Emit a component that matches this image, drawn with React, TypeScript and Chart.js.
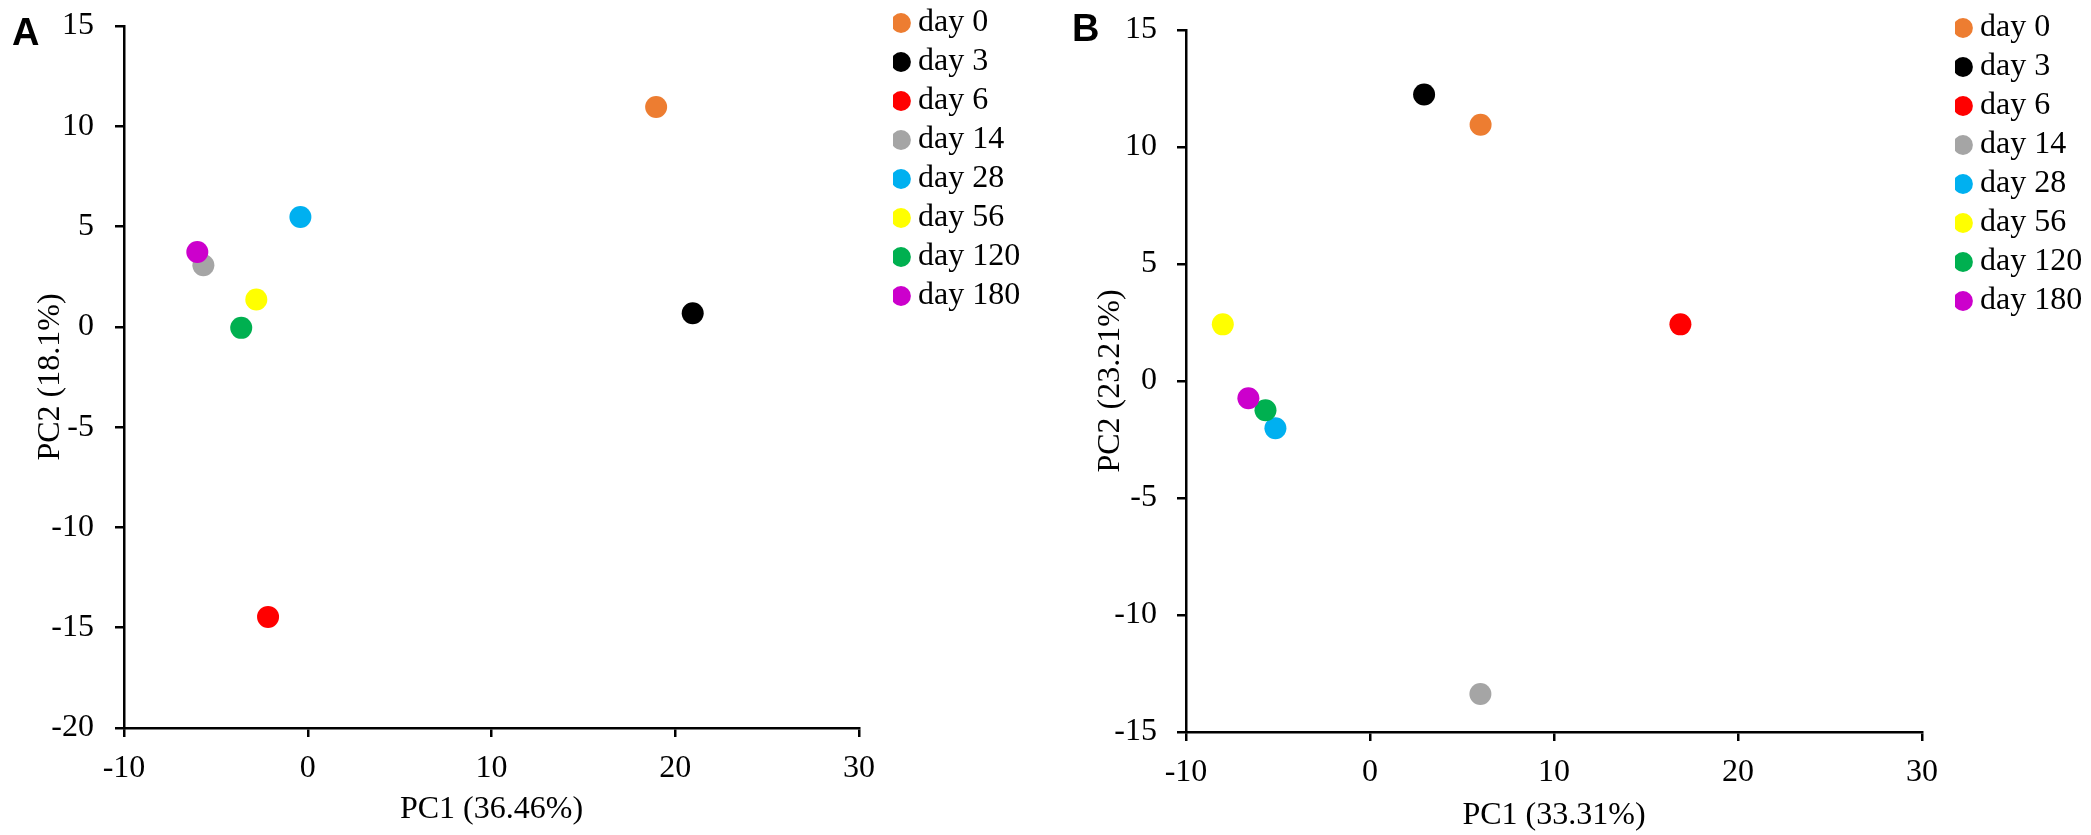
import React, { useEffect, useRef } from 'react';
import { Chart, registerables } from 'chart.js';

Chart.register(...registerables);

const days = ['day 0', 'day 3', 'day 6', 'day 14', 'day 28', 'day 56', 'day 120', 'day 180'];
const dayColors = ['#ED7D31', '#000000', '#FF0000', '#A5A5A5', '#00B0F0', '#FFFF00', '#00B050', '#CC00CC'];

// panel A scores
const pc1A = [18.96, 20.95, -2.16, -5.68, -0.4, -2.8, -3.62, -6.01];
const pc2A = [10.96, 0.68, -14.46, 3.07, 5.48, 1.36, -0.05, 3.73];

// panel B scores
const pc1B = [6.01, 2.94, 16.87, 6.0, -5.14, -8.0, -5.68, -6.61];
const pc2B = [10.95, 12.24, 2.42, -13.38, -2.02, 2.42, -1.25, -0.74];

const xTicks = [-10, 0, 10, 20, 30];
const yTicksA = [-20, -15, -10, -5, 0, 5, 10, 15];
const yTicksB = [-15, -10, -5, 0, 5, 10, 15];

const HEIGHT = 835;
const FONT = { family: '"Liberation Serif", "Times New Roman", serif', size: 32 };

// moves the legend box after layout, so it does not eat into the plot
const legendAt = (x: number, y: number) => ({
  id: 'legendAt',
  afterLayout(chart: any) {
    const lg = chart.legend;
    if (!lg) return;
    lg.left = x;
    lg.right = x + 300;
    lg.top = y;
    lg.bottom = chart.height;
  },
});

interface PanelProps {
  letter: string;
  left: number;
  width: number;
  pc1: number[];
  pc2: number[];
  yTicks: number[];
  xTitle: string;
  yTitle: string;
  plotLeft: number;
  plotRight: number;
  plotTop: number;
  plotBottom: number;
  yTitlePad: number;
  xTitlePad: number;
  yTickPad: number;
  legendX: number;
  legendY: number;
  letterX: number;
  letterY: number;
}

function Panel(p: PanelProps) {
  const canvasRef = useRef<HTMLCanvasElement>(null);

  useEffect(() => {
    const el = canvasRef.current;
    if (!el) return;

    const chart = new Chart(el, {
      type: 'scatter',
      data: {
        datasets: days.map((d, i) => ({
          label: d,
          data: [{ x: p.pc1[i], y: p.pc2[i] }],
          backgroundColor: dayColors[i],
          borderColor: dayColors[i],
          borderWidth: 0,
          pointRadius: 11,
          pointHoverRadius: 11,
          pointStyle: 'circle',
          order: days.length - i,
        })),
      },
      options: {
        animation: false,
        responsive: false,
        events: [],
        layout: { padding: { left: 0, top: p.plotTop, right: p.width - p.plotRight - 1, bottom: 0 } },
        scales: {
          x: {
            type: 'linear',
            min: xTicks[0],
            max: xTicks[xTicks.length - 1],
            ticks: { stepSize: 10, color: '#000', font: FONT, padding: 12 },
            grid: { drawOnChartArea: false, drawTicks: true, tickLength: 9, color: '#000', lineWidth: 2.5 },
            border: { display: true, color: '#000', width: 2.5 },
            title: { display: true, text: p.xTitle, color: '#000', font: FONT, padding: { top: 0, bottom: p.xTitlePad } },
            afterFit: (s: any) => {
              s.height = HEIGHT - p.plotBottom;
              s.paddingLeft = 0;
              s.paddingRight = 0;
            },
          },
          y: {
            type: 'linear',
            min: p.yTicks[0],
            max: p.yTicks[p.yTicks.length - 1],
            ticks: { stepSize: 5, color: '#000', font: FONT, padding: p.yTickPad },
            grid: { drawOnChartArea: false, drawTicks: true, tickLength: 9, color: '#000', lineWidth: 2.5 },
            border: { display: true, color: '#000', width: 2.5 },
            title: { display: true, text: p.yTitle, color: '#000', font: FONT, padding: { top: p.yTitlePad, bottom: 0 } },
            afterFit: (s: any) => {
              s.width = p.plotLeft;
              s.paddingTop = 0;
              s.paddingBottom = 0;
            },
          },
        },
        plugins: {
          legend: {
            position: 'right',
            align: 'start',
            maxWidth: 1,
            labels: {
              usePointStyle: true,
              boxWidth: 2,
              boxHeight: 14,
              padding: 7,
              color: '#000',
              font: FONT,
              sort: (a: any, b: any) => a.datasetIndex - b.datasetIndex,
            },
          },
          tooltip: { enabled: false },
        },
      } as any,
      plugins: [legendAt(p.legendX, p.legendY)],
    });

    return () => {
      chart.destroy();
    };
  }, []);

  return (
    <div style={{ position: 'absolute', left: p.left, top: 0, width: p.width, height: HEIGHT }}>
      <canvas ref={canvasRef} width={p.width} height={HEIGHT} style={{ display: 'block' }} />
      <span style={{
        position: 'absolute',
        left: p.letterX,
        top: p.letterY,
        fontFamily: '"Liberation Sans", Arial, sans-serif',
        fontWeight: 'bold',
        fontSize: 38,
        lineHeight: 1,
      }}>{p.letter}</span>
    </div>
  );
}

export default function App() {
  return (
    <div style={{ position: 'absolute', left: 0, top: 0, width: 2091, height: HEIGHT, background: '#fff' }}>
      <Panel
        letter="A" left={0} width={1050}
        pc1={pc1A} pc2={pc2A} yTicks={yTicksA}
        xTitle="PC1 (36.46%)" yTitle="PC2 (18.1%)"
        plotLeft={124} plotRight={859} plotTop={26} plotBottom={728}
        yTitlePad={31} xTitlePad={6} yTickPad={21}
        legendX={893} legendY={0}
        letterX={12} letterY={13}
      />
      <Panel
        letter="B" left={1050} width={1041}
        pc1={pc1B} pc2={pc2B} yTicks={yTicksB}
        xTitle="PC1 (33.31%)" yTitle="PC2 (23.21%)"
        plotLeft={136} plotRight={872} plotTop={30} plotBottom={732}
        yTitlePad={41} xTitlePad={0} yTickPad={20}
        legendX={905} legendY={5}
        letterX={22} letterY={9}
      />
    </div>
  );
}
